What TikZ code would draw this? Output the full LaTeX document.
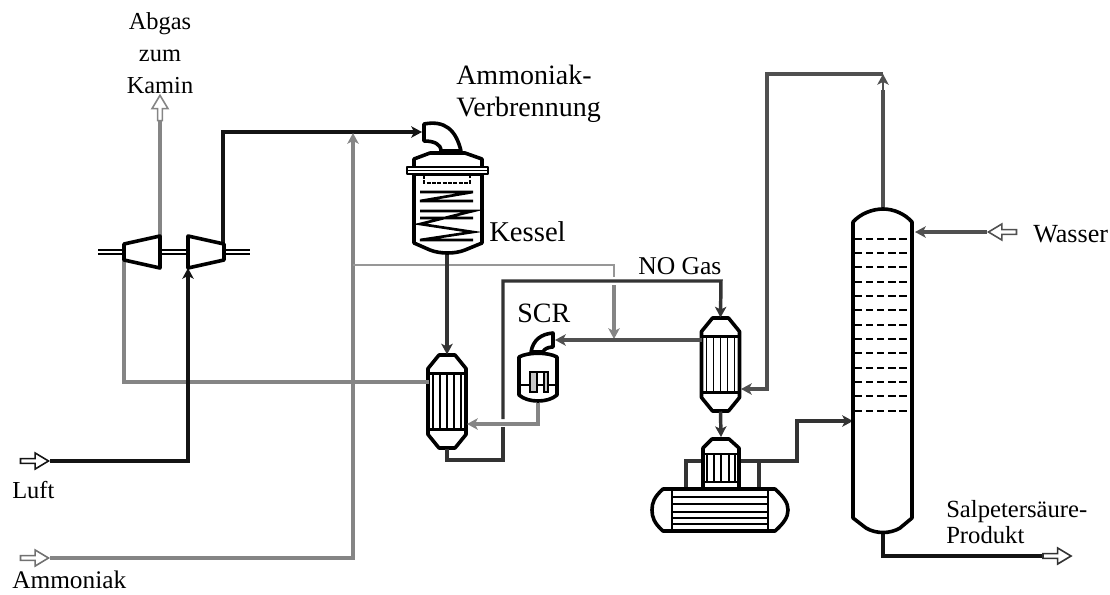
\documentclass[tikz,border=0pt]{standalone}
\usepackage{fontspec}
\setmainfont{Liberation Serif}
\usetikzlibrary{arrows.meta, calc, shapes.arrows}
\definecolor{rohrschwarz}{HTML}{141414}
\definecolor{rohrdunkel}{HTML}{333333}
\definecolor{rohrmittel}{HTML}{505050}
\definecolor{rohrgrau}{HTML}{858585}
\tikzset{
  schrift/.style={font=\fontsize{#1}{24}\selectfont, inner sep=0pt, anchor=base west},
  schrift/.default=19,
  fluss/.style={-{Stealth[length=8pt,width=8.5pt,inset=2pt]}},
  rohr/.style={line width=3pt, rohrschwarz, line join=miter},
  rohrd/.style={line width=2.6pt, rohrdunkel},
  rohrm/.style={line width=3pt, rohrmittel},
  rohrg/.style={line width=2.4pt, rohrgrau},
  rohrdunn/.style={line width=1.5pt, rohrgrau!85},
  anlage/.style={line width=2.7pt, black, line join=round, fill=white},
  innen/.style={line width=1.3pt, black},
  hohl/.style={single arrow, draw=#1, fill=white, inner sep=0pt, line width=1.2pt,
    minimum height=21pt, minimum width=12pt, single arrow head extend=1.4pt,
    single arrow tip angle=62},
  hx/.pic={
    \draw[anlage] (-8,-46.5) -- (8,-46.5) -- (19,-33) -- (19,33) -- (8,46.5) -- (-8,46.5) -- (-19,33) -- (-19,-33) -- cycle;
    \draw[line width=1.6pt] (-19,-28) -- (19,-28) (-19,28) -- (19,28);
    \foreach \t in {-14,-7,0,7,14}
      \draw[innen] (\t,-28) -- (\t,28);
    \coordinate (-top) at (0,-47);
    \coordinate (-bot) at (0,47);
  }
}
\begin{document}
\begin{tikzpicture}[x=0.75pt, y=-0.75pt]
  \useasboundingbox (0,0) rectangle (1110,594);

  \node[hohl=rohrgrau, shape border rotate=90, minimum height=19pt] (abgaspfeil) at (160,110) {};
  \node[hohl=rohrschwarz] (luftpfeil) at (32.5,461) {};
  \node[hohl=rohrgrau!85!black] (nhpfeil) at (32.5,558) {};
  \node[hohl=rohrmittel, shape border rotate=180] (wasserpfeil) at (1004.5,232) {};
  \node[hohl=rohrdunkel] (produktpfeil) at (1055,556) {};

  \pic (hxa) at (447,401.5) {hx};
  \pic (hxb) at (720.5,364.5) {hx};

  \coordinate (ka) at (124,244);
  \coordinate (kb) at (160,236);
  \coordinate (kc) at (160,268);
  \coordinate (kd) at (124,260);
  \coordinate (ke) at (188,236);
  \coordinate (kf) at (224,244);
  \coordinate (kg) at (224,260);
  \coordinate (kh) at (188,268);
  \coordinate (nhknick) at (353,558);
  \coordinate (nhziel) at (353,133);
  \coordinate (zweiga) at (353,265);
  \coordinate (zweigb) at (614,265);
  \coordinate (zweigc) at (614,277);
  \coordinate (zweigd) at (614,285);
  \coordinate (zweige) at (614,339);
  \coordinate (kessela) at (422,132);
  \coordinate (kesselb) at (447,254);
  \coordinate (rein) at (429,382);
  \coordinate (screin) at (555,340);
  \coordinate (scraus) at (538,403);
  \coordinate (hxbrein) at (702,340);
  \coordinate (hxbseite) at (741,389);
  \coordinate (hxaseite) at (467,424);
  \coordinate (kuehlaus) at (739,461);
  \coordinate (saeulelinks) at (853,421);
  \coordinate (saeulerechts) at (915,232);
  \coordinate (saeuleoben) at (883,209);
  \coordinate (saeuleunten) at (883,533);

  \draw[rohrg] (abgaspfeil.tail) -- (kb);
  \draw[rohrg] (kd) -- (ka |- rein) -- (rein);
  \draw[rohr, fluss] (kf) ++(-1,0) |- (kessela);
  \draw[rohr, fluss] (luftpfeil.tip) -| (kh);
  \draw[rohrg, fluss] (nhpfeil.tip) -- (nhknick) -- (nhziel);
  \draw[rohrdunn] (zweiga) -- (zweigb) -- (zweigc);
  \draw[rohrg, fluss] (zweigd) -- (zweige);
  \draw[rohrd, fluss] (kesselb) -- (hxa-top);
  \draw[rohrg, fluss] (scraus) |- (hxaseite);
  \draw[rohrm, fluss] (hxbrein) -- (screin);
  \draw[rohrm, line width=2.6pt] (saeuleoben) -- (883,90);
  \draw[rohrm, line width=1.2pt, fluss] (883,90) -- (883,74);
  \draw[rohrm, fluss] (883,74) -| (767,389) -- (hxbseite);
  \draw[rohrd] (hxa-bot) |- (503,460) -- (503,427);
  \draw[rohrd, fluss] (503,419) |- (721,281) -- (hxb-top);
  \draw[rohrd, fluss] (hxb-bot) -- (721,437);
  \draw[rohrd] (686,489) |- (702,461);
  \draw[rohrd] (759,489) -- (759,461);
  \draw[rohrd, fluss] (kuehlaus) -| (797,421) -- (saeulelinks);
  \draw[rohrm, fluss] (wasserpfeil.tip) -- (saeulerechts);
  \draw[rohr] (saeuleunten) |- (produktpfeil.tail);

  \draw[double=white, double distance=2pt, line width=1pt] (98,252) -- (250,252);
  \draw[anlage] (ka) -- (kb) -- (kc) -- (kd) -- cycle;
  \draw[anlage] (ke) -- (kf) -- (kg) -- (kh) -- cycle;

  \draw[anlage] (424,131) -- (424,124) .. controls (445,120) and (456,130) .. (461,151) -- (441,151) .. controls (441,144) and (434,141) .. (424,141) -- cycle;
  \draw[anlage] (414,167) -- (414,159) -- (430,153) -- (465,153) -- (482,159) -- (482,167) (414,174) -- (414,243) -- (430,250) .. controls (440,254) and (455,254) .. (465,250) -- (482,243) -- (482,174) -- cycle;
  \draw[anlage, line width=1.5pt] (407,167) rectangle (488,174);
  \draw[line width=1.4pt] (407,170.5) -- (488,170.5);
  \draw[line width=1.8pt, dash pattern=on 3pt off 1pt] (424,175) -- (424,183) -- (470,183) -- (470,175);
  \draw[line width=2pt] (420,192) -- (473,192) -- (420,201) -- (473,201) (420,211) -- (473,211) -- (420,224) -- (473,232) -- (420,240) -- (473,240) (473,218) -- (420,218);

  \draw[anlage] (531,352) .. controls (533,340) and (541,334) .. (553,333) -- (553,347) .. controls (548,347) and (544,349) .. (543,352) -- cycle;
  \draw[anlage] (519,357) .. controls (528,352) and (548,352) .. (557,357) -- (557,395) .. controls (548,403) and (528,403) .. (519,395) -- cycle;
  \draw[line width=1pt] (519,385) -- (557,385);
  \draw[line width=1.8pt, fill=gray!45] (530,372) rectangle (537,392) (544,372) rectangle (548,392);
  \draw[line width=1.8pt] (530,372) -- (548,372);

  \draw[anlage] (703,489) -- (703,448) -- (712,439) -- (729,439) -- (739,448) -- (739,489) -- cycle;
  \draw[line width=1.6pt] (703,454) -- (739,454) (703,482) -- (739,482);
  \foreach \t in {707,714,721,729,735}
    \draw[innen] (\t,454) -- (\t,482);
  \draw[anlage] (663,489) -- (775,489) .. controls (784,497) and (788,503) .. (788,510) .. controls (788,517) and (784,523) .. (775,531) -- (663,531) .. controls (654,523) and (652,517) .. (652,510) .. controls (652,503) and (654,497) .. (663,489) -- cycle;
  \draw[innen] (672,489) -- (672,531) (768,489) -- (768,531);
  \foreach \t in {497,504,512,518,524}
    \draw[innen] (672,\t) -- (768,\t);

  \draw[anlage] (853,518) -- (853,222) .. controls (860,214) and (872,209) .. (883,209) .. controls (894,209) and (905,214) .. (912,222) -- (912,518) -- (900,528) .. controls (890,534) and (876,534) .. (866,528) -- cycle;
  \foreach \t/\w in {239/1.8,253/1.5,267/2,282/1.8,296/2.2,310/2,325/2.2,339/1.9,353/1.9,368/1.6,382/2,396/2.2,411/1.5}
    \draw[line width=\w pt, dash pattern=on 5.5pt off 2.8pt] (855,\t) -- (911,\t);

  \node[schrift=18.3, align=center, anchor=center] (abgastext) at (160,53) {Abgas\\zum\\Kamin};
  \node[schrift=21, align=left, anchor=west] (brennertext) at (456,94) {Ammoniak-\\Verbrennung};
  \node[schrift=21.5] (kesseltext) at (489,241) {Kessel};
  \node[schrift=19.2] (nogastext) at (638,274) {NO Gas};
  \node[schrift=21] (scrtext) at (517,322) {SCR};
  \node[schrift=18.3] (lufttext) at (12,498) {Luft};
  \node[schrift=19] (nhtext) at (12,588) {Ammoniak};
  \node[schrift=19.6] (wassertext) at (1033,242) {Wasser};
  \node[schrift=18.5, align=left, anchor=west, font=\fontsize{18.5}{19.5}\selectfont] (produkttext) at (946,522) {Salpetersäure-\\Produkt};
\end{tikzpicture}
\end{document}
